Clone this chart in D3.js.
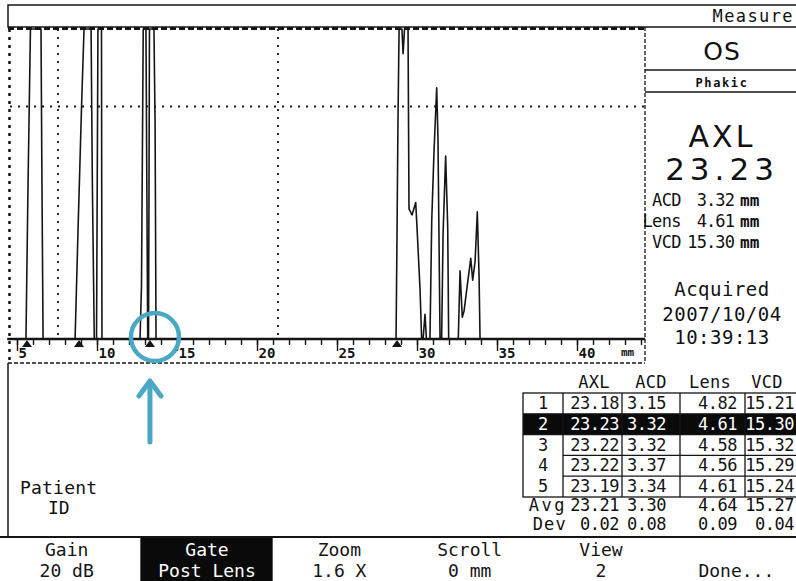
<!DOCTYPE html>
<html>
<head>
<meta charset="utf-8">
<script src="https://cdn.jsdelivr.net/npm/d3@7"></script>
<style>
  body { margin: 0; background: #fff; }
  text { font-family: "DejaVu Sans Mono", monospace; fill: #111; }
</style>
</head>
<body>
<div id="scan"></div>
<script>
// A-scan echo trace: [depth mm, amplitude %]
var wave = [
  [4.4, 0],
  [5.56, 0], [5.69, 50], [5.84, 100], [6.50, 100], [6.56, 50], [6.63, 0],
  [8.63, 0], [8.83, 38], [9.04, 76], [9.19, 100], [9.63, 100], [9.71, 50], [9.83, 0],
  [9.97, 0], [10.06, 100], [10.28, 100], [10.31, 0],
  [12.69, 0], [12.78, 17], [12.89, 100], [13.06, 100], [13.17, 0],
  [13.22, 0], [13.28, 100], [13.56, 100], [13.63, 70], [13.69, 0],
  [28.69, 0], [28.75, 33], [28.81, 70], [28.88, 100], [29.06, 100], [29.13, 92], [29.22, 100],
  [29.44, 100], [29.5, 42], [29.69, 40], [29.92, 44], [30.0, 36], [30.19, 16], [30.29, 0],
  [30.38, 0], [30.5, 8], [30.59, 0],
  [30.81, 0], [30.92, 38], [31.06, 60], [31.23, 81], [31.31, 65], [31.44, 0],
  [31.54, 0], [31.63, 34], [31.79, 59], [31.92, 36], [31.98, 0],
  [32.58, 0], [32.69, 22], [32.83, 7], [32.94, 9], [33.11, 16], [33.36, 26], [33.48, 19],
  [33.63, 25], [33.77, 41], [33.88, 20], [33.94, 0],
  [44.25, 0]
];
var gates = [5.625, 8.875, 13.31, 28.75];
var gridX = [7.56, 21.31];
var gridY = [75];
var majorTicks = [5, 10, 15, 20, 25, 30, 35, 40];

// measurement table
var tableCols = ["AXL", "ACD", "Lens", "VCD"];
var rowLabels = ["1", "2", "3", "4", "5"];
var axlVals = [23.18, 23.23, 23.22, 23.22, 23.19];
var acdVals = [3.15, 3.32, 3.32, 3.37, 3.34];
var lensVals = [4.82, 4.61, 4.58, 4.56, 4.61];
var vcdVals = [15.21, 15.30, 15.32, 15.29, 15.24];
var avgVals = [23.21, 3.30, 4.64, 15.27];
var devVals = [0.02, 0.08, 0.09, 0.04];
var selectedRow = 1;

// side panel
var eye = "OS";
var lensState = "Phakic";
var axlValue = 23.23;
var partLabels = ["ACD", "Lens", "VCD"];
var partVals = [3.32, 4.61, 15.30];
var acquired = ["Acquired", "2007/10/04", "10:39:13"];

// menu bar
var menuTop = ["Gain", "Gate", "Zoom", "Scroll", "View", ""];
var menuBottom = ["20 dB", "Post Lens", "1.6 X", "0 mm", "2", "Done..."];
var activeMenu = 1;

var svg = d3.select("#scan").append("svg")
  .attr("width", 796)
  .attr("height", 581);

var ink = "#151515";

function hline(x1, x2, yy, w, dash) {
  svg.append("line").attr("x1", x1).attr("x2", x2).attr("y1", yy).attr("y2", yy)
    .attr("stroke", ink).attr("stroke-width", w).attr("stroke-dasharray", dash || null);
}
function vline(xx, y1, y2, w, dash) {
  svg.append("line").attr("x1", xx).attr("x2", xx).attr("y1", y1).attr("y2", y2)
    .attr("stroke", ink).attr("stroke-width", w).attr("stroke-dasharray", dash || null);
}
function label(txt, xx, yy, size, anchor, spacing) {
  return svg.append("text").attr("x", xx).attr("y", yy)
    .attr("font-size", size).attr("text-anchor", anchor || "start")
    .attr("letter-spacing", spacing || null)
    .text(txt);
}

// scales
var x = d3.scaleLinear().domain([4.4, 44.25]).range([7.4, 645]);
var y = d3.scaleLinear().domain([0, 100]).range([339, 29]);

// frames
svg.append("rect").attr("x", 8).attr("y", 5).attr("width", 792).attr("height", 22)
  .attr("fill", "none").attr("stroke", ink).attr("stroke-width", 1.5);
label("Measure", 794, 22, 17, "end", 1.4);

hline(8, 645, 28.5, 3, "6,3");
vline(9.5, 29, 363, 2.5, "3,5");
vline(645, 27, 363, 1.3, "4,2");
hline(645, 800, 70, 1.3);
hline(645, 800, 92, 1.3);
hline(8, 645, 363, 1.5, "4,2");
vline(8, 363, 537, 1.5);
hline(0, 800, 537, 2);

// grid
gridX.forEach(function(g) {
  vline(x(g), y(100), y(0), 1.8, "2,6");
});
gridY.forEach(function(g) {
  hline(10, 645, y(g), 1.8, "2,6");
});

// axis ticks
var minorAxis = d3.axisBottom(x).tickValues(d3.range(5, 45)).tickSize(6).tickFormat("");
var majorAxis = d3.axisBottom(x).tickValues(majorTicks).tickSize(12).tickFormat(function(d) { return d; });

var gMinor = svg.append("g").attr("transform", `translate(0,${y(0)})`).call(minorAxis);
gMinor.select(".domain").remove();
gMinor.selectAll("line").attr("stroke", ink).attr("stroke-width", 1.4);

var gMajor = svg.append("g").attr("transform", `translate(0,${y(0)})`).call(majorAxis);
gMajor.select(".domain").remove();
gMajor.selectAll("line").attr("stroke", ink).attr("stroke-width", 1.4);
gMajor.selectAll("text")
  .attr("text-anchor", "start")
  .attr("x", 1)
  .attr("y", 19)
  .attr("dy", 0)
  .attr("font-size", 14)
  .attr("font-weight", "bold")
  .style("fill", ink);
label("mm", 621, 356, 11, "start").attr("font-weight", "bold").style("fill", ink);

// baseline
hline(x(4.4), 645, y(0), 2.5);

// echo trace
var line = d3.line().x(function(d) { return x(d[0]); }).y(function(d) { return y(d[1]); });
svg.append("path").datum(wave)
  .attr("d", line)
  .attr("fill", "none")
  .attr("stroke", ink)
  .attr("stroke-width", 1.6)
  .attr("stroke-linejoin", "round");

// gate markers
svg.selectAll(".gate").data(gates).enter().append("path")
  .attr("class", "gate")
  .attr("d", function(d) {
    var gx = x(d);
    return `M${gx - 5},347 L${gx},340 L${gx + 5},347 Z`;
  })
  .attr("fill", ink);

// side panel
label(eye, 722, 60, 25, "middle", 1).style("font-family", "DejaVu Sans");
label(lensState, 722, 87, 12, "middle", 1.6).attr("font-weight", "bold");
label("AXL", 722, 147, 30, "middle", 3).style("font-family", "DejaVu Sans");
label(axlValue.toFixed(2), 722, 180, 31, "middle", 5).style("font-family", "DejaVu Sans");

partLabels.forEach(function(p, i) {
  var yy = 206 + i * 21;
  label(p, 681, yy, 17, "end", -0.6);
  label(partVals[i].toFixed(2), 734, yy, 17, "end", -0.9);
  label("mm", 740, yy, 16, "start").attr("font-weight", "bold");
});

acquired.forEach(function(a, i) {
  label(a, 722, [296, 321, 344][i], 19, "middle", 0.5);
});

// table
var colEdges = [563, 622, 680, 745];
var colEnds = [619, 666, 737, 794];
var colHeads = [594, 651, 710, 767];
var rowY = d3.scaleBand().domain(rowLabels).range([393, 497]);
var colVals = [axlVals, acdVals, lensVals, vcdVals];

tableCols.forEach(function(c, i) {
  label(c, colHeads[i], 388, 17, "middle", 0.3);
});

svg.append("rect").attr("x", 523).attr("y", rowY(rowLabels[selectedRow]))
  .attr("width", 273).attr("height", rowY.bandwidth()).attr("fill", "#0a0a0a");

svg.append("rect").attr("x", 523).attr("y", 393).attr("width", 275).attr("height", 104)
  .attr("fill", "none").attr("stroke", ink).attr("stroke-width", 1.3);
rowLabels.forEach(function(r, i) {
  if (i === 0) return;
  var x1 = (i <= selectedRow + 1) ? 523 : 563;
  hline(x1, 798, rowY(r), 1.3);
});
colEdges.forEach(function(cx) {
  vline(cx, 393, 497, 1.3);
});

rowLabels.forEach(function(r, i) {
  var fill = i === selectedRow ? "#fff" : ink;
  var yy = rowY(r) + 16;
  label(r, 543, yy, 17, "middle").style("fill", fill);
  colVals.forEach(function(vals, j) {
    label(vals[i].toFixed(2), colEnds[j], yy, 17, "end", -0.5).style("fill", fill);
  });
});

label("Avg", 567, 511, 17, "end", 2.5);
label("Dev", 567, 530, 17, "end", 1.2);
avgVals.forEach(function(v, j) { label(v.toFixed(2), colEnds[j], 511, 17, "end", -0.5); });
devVals.forEach(function(v, j) { label(v.toFixed(2), colEnds[j], 530, 17, "end", -0.5); });

label("Patient", 20, 494, 18, "start", 0.2);
label("ID", 48, 514, 18, "start");

// menu bar
var menuX = d3.scaleBand().domain(d3.range(menuTop.length)).range([0, 800]);
var gateBand = menuX(activeMenu);
svg.append("rect").attr("x", gateBand + 7).attr("y", 538).attr("width", menuX.bandwidth() - 1)
  .attr("height", 43).attr("fill", "#0a0a0a");
menuTop.forEach(function(m, i) {
  var cx = menuX(i) + menuX.bandwidth() / 2 + [0, 7, 6, 3, 1, 3][i];
  var fill = i === activeMenu ? "#fff" : ink;
  label(m, cx, 556, 18, "middle").style("fill", fill);
  label(menuBottom[i], cx, 577, 18, "middle").style("fill", fill);
});

// highlight annotation on the posterior lens gate
var teal = "#4aa8c4";
var gx = x(gates[2]);
svg.append("circle").attr("cx", gx + 5).attr("cy", 337).attr("r", 24)
  .attr("fill", "none").attr("stroke", teal).attr("stroke-width", 4.5);
svg.append("line").attr("x1", gx).attr("x2", gx).attr("y1", 442).attr("y2", 383)
  .attr("stroke", teal).attr("stroke-width", 5).attr("stroke-linecap", "round");
svg.append("path").attr("d", `M${gx - 11},396 L${gx},381 L${gx + 11},396`)
  .attr("fill", "none").attr("stroke", teal).attr("stroke-width", 5)
  .attr("stroke-linecap", "round").attr("stroke-linejoin", "round");
</script>
</body>
</html>
